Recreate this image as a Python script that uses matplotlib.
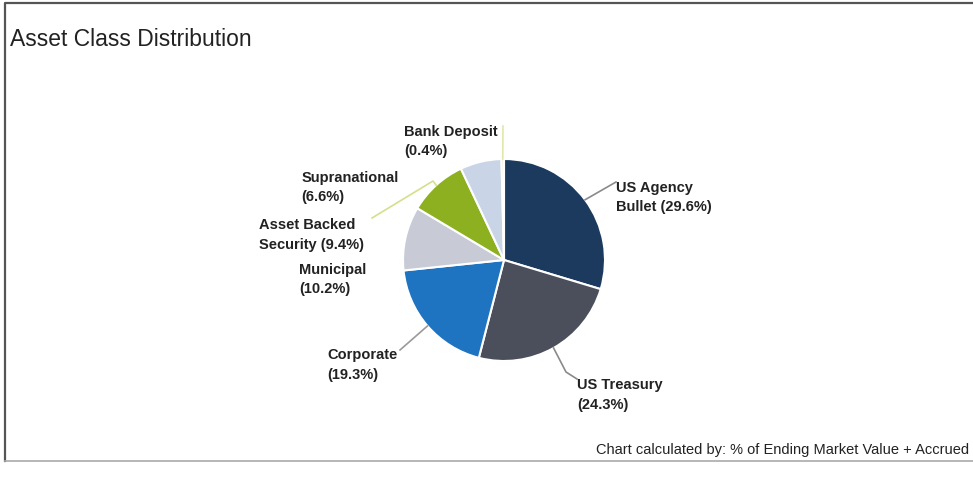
import math
import matplotlib
matplotlib.use("Agg")
import matplotlib.pyplot as plt

plt.rcParams['font.family'] = ['Liberation Sans', 'DejaVu Sans']

# data
classes = ["US Agency\nBullet", "US Treasury", "Corporate", "Municipal",
           "Asset Backed\nSecurity", "Supranational", "Bank Deposit"]
shares = [29.6, 24.3, 19.3, 10.2, 9.4, 6.6, 0.4]
colors = ["#1c3a5e", "#4b4f5c", "#1f74c2", "#c8cbd6", "#8db020", "#c9d5e6", "#e9ebb8"]

W, H = 973, 487
cx, cy, r = 504, 260, 101

fig = plt.figure(figsize=(W / 100, H / 100), dpi=100)
ax = fig.add_axes([0, 0, 1, 1])
ax.set_xlim(0, W)
ax.set_ylim(0, H)
ax.set_aspect("equal")
ax.axis("off")

def Y(y):
    return H - y

wedges, _ = ax.pie(shares, colors=colors, center=(cx, Y(cy)), radius=r,
                   startangle=90, counterclock=False,
                   wedgeprops=dict(edgecolor="white", linewidth=1.5))
ax.set_xlim(0, W)
ax.set_ylim(0, H)

# label layout: (text x, first line centre y, ha, connector points after slice edge, line colour)
layout = [
    (616, 187, "left", [(616, 182)], "#8a8a8a"),
    (577, 384, "left", [(566, 372), (577, 379)], "#8a8a8a"),
    (398, 354, "right", [(400, 350)], "#9a9a9a"),
    (366, 269, "right", [], None),
    (364, 224, "right", [(433, 181), (372, 218)], "#d6df8c"),
    (399, 177, "right", [], None),
    (498, 131, "right", [(503, 126)], "#e3e6a8"),
]

fs = 10.5
for w, name, val, (tx, ty, ha, pts, lc) in zip(wedges, classes, shares, layout):
    mid = math.radians((w.theta1 + w.theta2) / 2)
    ex = cx + r * math.cos(mid)
    ey = cy - r * math.sin(mid)
    if pts:
        xs = [ex] + [p[0] for p in pts]
        ys = [Y(ey)] + [Y(p[1]) for p in pts]
        ax.plot(xs, ys, color=lc, lw=1.2, zorder=1)
    if "\n" in name:
        txt = f"{name} ({val}%)"
    else:
        txt = f"{name}\n({val}%)"
    ax.text(tx, Y(ty - 6), txt, ha=ha, va="top", fontsize=fs,
            fontweight="bold", color="#222222", linespacing=1.5,
            multialignment="left")

# title and footnote
ax.text(10, Y(39), "Asset Class Distribution", fontsize=16.5, color="#222222",
        ha="left", va="center")
ax.text(596, Y(450), "Chart calculated by: % of Ending Market Value + Accrued",
        fontsize=10.5, color="#222222", ha="left", va="center")

# frame
ax.plot([5, 5, W + 10], [Y(461), Y(3), Y(3)], color="#555555", lw=1.6, clip_on=False)
ax.plot([5, W + 10], [Y(461), Y(461)], color="#aaaaaa", lw=1.2, clip_on=False)

fig.savefig("out.png", dpi=100)
